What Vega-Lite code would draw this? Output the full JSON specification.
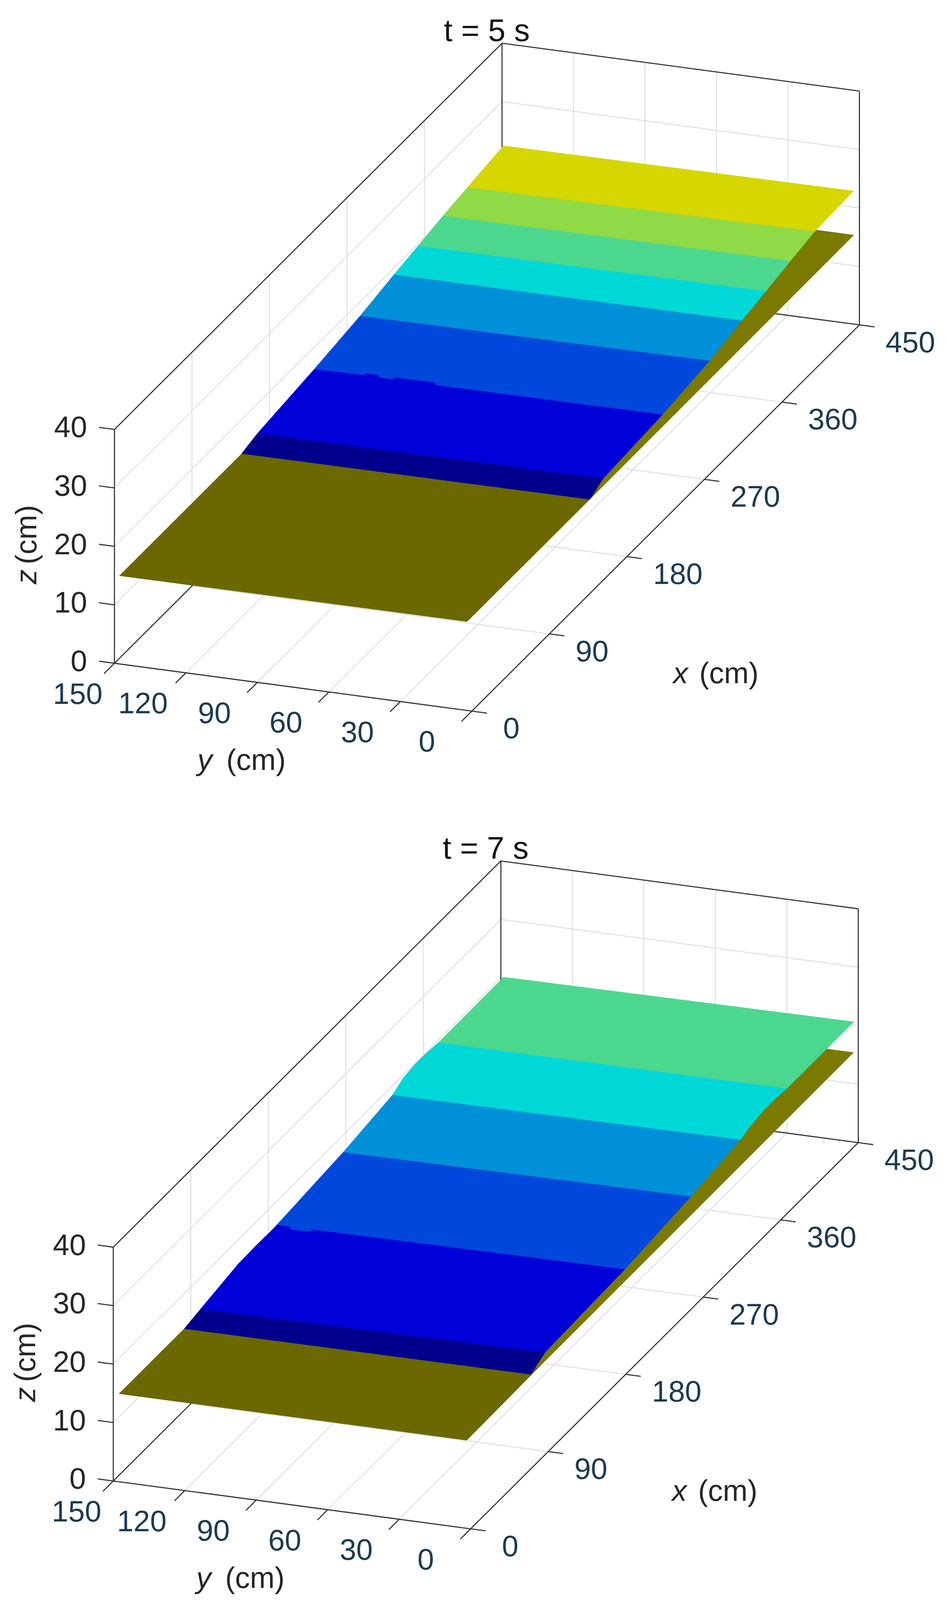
{
  "$schema": "https://vega.github.io/schema/vega-lite/v6.json",
  "width": 2427,
  "height": 4100,
  "padding": 0,
  "autosize": "none",
  "background": "white",
  "view": {"stroke": null},
  "config": {"text": {"font": "Liberation Sans", "fontSize": 76}},
  "datasets": {
    "grid": [
      {"x0":0,"y0":30,"z0":0,"x1":450,"y1":30,"z1":0},
      {"x0":0,"y0":60,"z0":0,"x1":450,"y1":60,"z1":0},
      {"x0":0,"y0":90,"z0":0,"x1":450,"y1":90,"z1":0},
      {"x0":0,"y0":120,"z0":0,"x1":450,"y1":120,"z1":0},
      {"x0":90,"y0":0,"z0":0,"x1":90,"y1":150,"z1":0},
      {"x0":180,"y0":0,"z0":0,"x1":180,"y1":150,"z1":0},
      {"x0":270,"y0":0,"z0":0,"x1":270,"y1":150,"z1":0},
      {"x0":360,"y0":0,"z0":0,"x1":360,"y1":150,"z1":0},
      {"x0":90,"y0":150,"z0":0,"x1":90,"y1":150,"z1":40},
      {"x0":180,"y0":150,"z0":0,"x1":180,"y1":150,"z1":40},
      {"x0":270,"y0":150,"z0":0,"x1":270,"y1":150,"z1":40},
      {"x0":360,"y0":150,"z0":0,"x1":360,"y1":150,"z1":40},
      {"x0":0,"y0":150,"z0":10,"x1":450,"y1":150,"z1":10},
      {"x0":0,"y0":150,"z0":20,"x1":450,"y1":150,"z1":20},
      {"x0":0,"y0":150,"z0":30,"x1":450,"y1":150,"z1":30},
      {"x0":450,"y0":30,"z0":0,"x1":450,"y1":30,"z1":40},
      {"x0":450,"y0":60,"z0":0,"x1":450,"y1":60,"z1":40},
      {"x0":450,"y0":90,"z0":0,"x1":450,"y1":90,"z1":40},
      {"x0":450,"y0":120,"z0":0,"x1":450,"y1":120,"z1":40},
      {"x0":450,"y0":0,"z0":10,"x1":450,"y1":150,"z1":10},
      {"x0":450,"y0":0,"z0":20,"x1":450,"y1":150,"z1":20},
      {"x0":450,"y0":0,"z0":30,"x1":450,"y1":150,"z1":30}
    ],
    "box": [
      {"x0":0,"y0":150,"z0":0,"x1":0,"y1":150,"z1":40},
      {"x0":0,"y0":150,"z0":40,"x1":450,"y1":150,"z1":40},
      {"x0":450,"y0":150,"z0":40,"x1":450,"y1":0,"z1":40},
      {"x0":450,"y0":0,"z0":40,"x1":450,"y1":0,"z1":0},
      {"x0":450,"y0":150,"z0":40,"x1":450,"y1":150,"z1":0},
      {"x0":0,"y0":0,"z0":0,"x1":0,"y1":150,"z1":0},
      {"x0":0,"y0":0,"z0":0,"x1":450,"y1":0,"z1":0},
      {"x0":0,"y0":150,"z0":0,"x1":450,"y1":150,"z1":0},
      {"x0":450,"y0":0,"z0":0,"x1":450,"y1":150,"z1":0},
      {"x0":0,"y0":150,"z0":0,"x1":0,"y1":156.5,"z1":0},
      {"x0":0,"y0":150,"z0":10,"x1":0,"y1":156.5,"z1":10},
      {"x0":0,"y0":150,"z0":20,"x1":0,"y1":156.5,"z1":20},
      {"x0":0,"y0":150,"z0":30,"x1":0,"y1":156.5,"z1":30},
      {"x0":0,"y0":150,"z0":40,"x1":0,"y1":156.5,"z1":40},
      {"x0":0,"y0":0,"z0":0,"x1":-12,"y1":0,"z1":0},
      {"x0":0,"y0":30,"z0":0,"x1":-12,"y1":30,"z1":0},
      {"x0":0,"y0":60,"z0":0,"x1":-12,"y1":60,"z1":0},
      {"x0":0,"y0":90,"z0":0,"x1":-12,"y1":90,"z1":0},
      {"x0":0,"y0":120,"z0":0,"x1":-12,"y1":120,"z1":0},
      {"x0":0,"y0":150,"z0":0,"x1":-12,"y1":150,"z1":0},
      {"x0":0,"y0":0,"z0":0,"x1":0,"y1":-6.3,"z1":0},
      {"x0":90,"y0":0,"z0":0,"x1":90,"y1":-6.3,"z1":0},
      {"x0":180,"y0":0,"z0":0,"x1":180,"y1":-6.3,"z1":0},
      {"x0":270,"y0":0,"z0":0,"x1":270,"y1":-6.3,"z1":0},
      {"x0":360,"y0":0,"z0":0,"x1":360,"y1":-6.3,"z1":0},
      {"x0":450,"y0":0,"z0":0,"x1":450,"y1":-6.3,"z1":0}
    ],
    "surface": [
      {"t":5,"band":"bed","i":1,"x":0,"y":148,"z":15.1},
      {"t":5,"band":"bed","i":2,"x":0,"y":2,"z":15.2},
      {"t":5,"band":"bed","i":3,"x":150,"y":2,"z":15.2},
      {"t":5,"band":"bed","i":4,"x":150,"y":148,"z":15.1},
      {"t":5,"band":"bedfar","i":1,"x":148,"y":148,"z":15.2},
      {"t":5,"band":"bedfar","i":2,"x":148,"y":2,"z":15.2},
      {"t":5,"band":"bedfar","i":3,"x":449,"y":2,"z":15.4},
      {"t":5,"band":"bedfar","i":4,"x":449,"y":148,"z":15.4},
      {"t":5,"band":"navy","i":1,"x":142,"y":148,"z":15.15},
      {"t":5,"band":"navy","i":2,"x":142.5,"y":2,"z":15.2},
      {"t":5,"band":"navy","i":3,"x":158,"y":2,"z":16.5},
      {"t":5,"band":"navy","i":4,"x":160.5,"y":148,"z":15.9},
      {"t":5,"band":"royal","i":1,"x":226,"y":148,"z":17.2},
      {"t":5,"band":"royal","i":2,"x":226.7,"y":2,"z":17.3},
      {"t":5,"band":"royal","i":3,"x":281.7,"y":2,"z":18.5},
      {"t":5,"band":"royal","i":4,"x":279.7,"y":148,"z":18.5},
      {"t":5,"band":"blue","i":1,"x":160.5,"y":148,"z":15.9},
      {"t":5,"band":"blue","i":2,"x":158,"y":2,"z":16.5},
      {"t":5,"band":"blue","i":3,"x":226.7,"y":2,"z":17.3},
      {"t":5,"band":"blue","i":4,"x":225.8,"y":96.5,"z":17.3},
      {"t":5,"band":"blue","i":5,"x":228.4,"y":98.3,"z":17.3},
      {"t":5,"band":"blue","i":6,"x":228,"y":114.9,"z":17.3},
      {"t":5,"band":"blue","i":7,"x":225.7,"y":114.9,"z":17.3},
      {"t":5,"band":"blue","i":8,"x":225.8,"y":120.3,"z":17.3},
      {"t":5,"band":"blue","i":9,"x":228.4,"y":122.1,"z":17.3},
      {"t":5,"band":"blue","i":10,"x":228.5,"y":127.2,"z":17.3},
      {"t":5,"band":"blue","i":11,"x":226.3,"y":126.8,"z":17.3},
      {"t":5,"band":"blue","i":12,"x":226,"y":148,"z":17.2},
      {"t":5,"band":"med","i":1,"x":279.7,"y":148,"z":18.5},
      {"t":5,"band":"med","i":2,"x":281.7,"y":2,"z":18.5},
      {"t":5,"band":"med","i":3,"x":319,"y":2,"z":19.9},
      {"t":5,"band":"med","i":4,"x":319,"y":148,"z":19.8},
      {"t":5,"band":"cyan","i":1,"x":319,"y":148,"z":19.8},
      {"t":5,"band":"cyan","i":2,"x":319,"y":2,"z":19.9},
      {"t":5,"band":"cyan","i":3,"x":347,"y":2,"z":20.8},
      {"t":5,"band":"cyan","i":4,"x":347,"y":148,"z":20.6},
      {"t":5,"band":"green","i":1,"x":347,"y":148,"z":20.6},
      {"t":5,"band":"green","i":2,"x":347,"y":2,"z":20.8},
      {"t":5,"band":"green","i":3,"x":375.6,"y":2,"z":21.8},
      {"t":5,"band":"green","i":4,"x":375.9,"y":148,"z":21.5},
      {"t":5,"band":"lime","i":1,"x":375.9,"y":148,"z":21.5},
      {"t":5,"band":"lime","i":2,"x":375.6,"y":2,"z":21.8},
      {"t":5,"band":"lime","i":3,"x":403.8,"y":2,"z":22.7},
      {"t":5,"band":"lime","i":4,"x":404.4,"y":148,"z":22.2},
      {"t":5,"band":"yellow","i":1,"x":404.4,"y":148,"z":22.2},
      {"t":5,"band":"yellow","i":2,"x":403.8,"y":2,"z":22.7},
      {"t":5,"band":"yellow","i":3,"x":448.6,"y":2,"z":23},
      {"t":5,"band":"yellow","i":4,"x":445.7,"y":148,"z":23.2},
      {"t":7,"band":"bed","i":1,"x":1,"y":148,"z":14.9},
      {"t":7,"band":"bed","i":2,"x":1,"y":2,"z":14.9},
      {"t":7,"band":"bed","i":3,"x":86,"y":2,"z":15.1},
      {"t":7,"band":"bed","i":4,"x":86,"y":148,"z":14.9},
      {"t":7,"band":"bedfar","i":1,"x":84,"y":148,"z":15},
      {"t":7,"band":"bedfar","i":2,"x":84,"y":2,"z":15.1},
      {"t":7,"band":"bedfar","i":3,"x":450,"y":2,"z":15.3},
      {"t":7,"band":"bedfar","i":4,"x":450,"y":148,"z":15.3},
      {"t":7,"band":"navy","i":1,"x":76.8,"y":148,"z":14.9},
      {"t":7,"band":"navy","i":2,"x":75.4,"y":2,"z":15.25},
      {"t":7,"band":"navy","i":3,"x":92,"y":2,"z":16.6},
      {"t":7,"band":"navy","i":4,"x":95.8,"y":148,"z":15.5},
      {"t":7,"band":"royal","i":1,"x":178,"y":148,"z":16.8},
      {"t":7,"band":"royal","i":2,"x":178,"y":2,"z":17.1},
      {"t":7,"band":"royal","i":3,"x":261.4,"y":2,"z":18.4},
      {"t":7,"band":"royal","i":4,"x":261.4,"y":148,"z":18},
      {"t":7,"band":"blue","i":1,"x":95.8,"y":148,"z":15.5},
      {"t":7,"band":"blue","i":2,"x":92,"y":2,"z":16.6},
      {"t":7,"band":"blue","i":3,"x":184.2,"y":2,"z":17.2},
      {"t":7,"band":"blue","i":4,"x":184,"y":132.5,"z":16.9},
      {"t":7,"band":"blue","i":5,"x":181.5,"y":133,"z":16.9},
      {"t":7,"band":"blue","i":6,"x":181,"y":141,"z":16.9},
      {"t":7,"band":"blue","i":7,"x":184,"y":142.5,"z":16.9},
      {"t":7,"band":"blue","i":8,"x":184.5,"y":148,"z":16.8},
      {"t":7,"band":"blue","i":9,"x":160,"y":148,"z":16.85},
      {"t":7,"band":"blue","i":10,"x":138.2,"y":148,"z":16.75},
      {"t":7,"band":"med","i":1,"x":261.4,"y":148,"z":18},
      {"t":7,"band":"med","i":2,"x":261.4,"y":2,"z":18.4},
      {"t":7,"band":"med","i":3,"x":318.9,"y":2,"z":19.66},
      {"t":7,"band":"med","i":4,"x":318.6,"y":148,"z":19.4},
      {"t":7,"band":"cyan","i":1,"x":318.6,"y":148,"z":19.4},
      {"t":7,"band":"cyan","i":2,"x":318.9,"y":2,"z":19.66},
      {"t":7,"band":"cyan","i":3,"x":330,"y":2,"z":20.3},
      {"t":7,"band":"cyan","i":4,"x":346,"y":2,"z":20.74},
      {"t":7,"band":"cyan","i":5,"x":360,"y":2,"z":20.74},
      {"t":7,"band":"cyan","i":6,"x":372.9,"y":2,"z":20.5},
      {"t":7,"band":"cyan","i":7,"x":372.2,"y":148,"z":20.5},
      {"t":7,"band":"cyan","i":8,"x":358,"y":148,"z":20.75},
      {"t":7,"band":"cyan","i":9,"x":345,"y":148,"z":20.8},
      {"t":7,"band":"cyan","i":10,"x":330,"y":148,"z":20.4},
      {"t":7,"band":"green","i":1,"x":372.2,"y":148,"z":20.5},
      {"t":7,"band":"green","i":2,"x":372.9,"y":2,"z":20.5},
      {"t":7,"band":"green","i":3,"x":450.4,"y":2,"z":20.5},
      {"t":7,"band":"green","i":4,"x":447.5,"y":148,"z":20.6}
    ],
    "ticks": [
      {"axis":"z","label":"0","x":0,"y":150,"z":0},
      {"axis":"z","label":"10","x":0,"y":150,"z":10},
      {"axis":"z","label":"20","x":0,"y":150,"z":20},
      {"axis":"z","label":"30","x":0,"y":150,"z":30},
      {"axis":"z","label":"40","x":0,"y":150,"z":40},
      {"axis":"y","label":"150","x":0,"y":150,"z":0},
      {"axis":"y","label":"120","x":0,"y":120,"z":0},
      {"axis":"y","label":"90","x":0,"y":90,"z":0},
      {"axis":"y","label":"60","x":0,"y":60,"z":0},
      {"axis":"y","label":"30","x":0,"y":30,"z":0},
      {"axis":"y","label":"0","x":0,"y":0,"z":0},
      {"axis":"x","label":"0","x":0,"y":0,"z":0},
      {"axis":"x","label":"90","x":90,"y":0,"z":0},
      {"axis":"x","label":"180","x":180,"y":0,"z":0},
      {"axis":"x","label":"270","x":270,"y":0,"z":0},
      {"axis":"x","label":"360","x":360,"y":0,"z":0},
      {"axis":"x","label":"450","x":450,"y":0,"z":0}
    ],
    "titles": [
      {"t":5,"label":"t = 5 s","x":450,"y":150,"z":40},
      {"t":7,"label":"t = 7 s","x":450,"y":150,"z":40}
    ],
    "axisTitles": [
      {"axis":"x","name":"x","x":225,"y":0,"z":0},
      {"axis":"y","name":"y","x":0,"y":75,"z":0},
      {"axis":"z","name":"z","x":0,"y":150,"z":20}
    ]
  },
  "encoding": {
    "x": {"field": "px", "type": "quantitative", "scale": {"domain": [0, 2427], "nice": false, "zero": false}, "axis": null},
    "y": {"field": "py", "type": "quantitative", "scale": {"domain": [4822, 0], "nice": false, "zero": false}, "axis": null}
  },
  "layer": [
    {
      "data": {"name": "grid"},
      "transform": [
        {"calculate": "[5, 7]", "as": "t"},
        {"flatten": ["t"]},
        {"calculate": "1208 + 2.205*datum.x0 - 6.1*datum.y0 - (datum.t == 7 ? 3 : 0)", "as": "px"},
        {"calculate": "2141 - 2.584*datum.x0 - 0.96*datum.y0 - 17.6*datum.z0 + (datum.t == 7 ? 2462 : 0)", "as": "py"},
        {"calculate": "1208 + 2.205*datum.x1 - 6.1*datum.y1 - (datum.t == 7 ? 3 : 0)", "as": "px2"},
        {"calculate": "2141 - 2.584*datum.x1 - 0.96*datum.y1 - 17.6*datum.z1 + (datum.t == 7 ? 2462 : 0)", "as": "py2"}
      ],
      "mark": {"type": "rule", "color": "#dfdfdf", "strokeWidth": 2.5},
      "encoding": {"x2": {"field": "px2"}, "y2": {"field": "py2"}}
    },
    {
      "data": {"name": "box"},
      "transform": [
        {"calculate": "[5, 7]", "as": "t"},
        {"flatten": ["t"]},
        {"calculate": "1208 + 2.205*datum.x0 - 6.1*datum.y0 - (datum.t == 7 ? 3 : 0)", "as": "px"},
        {"calculate": "2141 - 2.584*datum.x0 - 0.96*datum.y0 - 17.6*datum.z0 + (datum.t == 7 ? 2462 : 0)", "as": "py"},
        {"calculate": "1208 + 2.205*datum.x1 - 6.1*datum.y1 - (datum.t == 7 ? 3 : 0)", "as": "px2"},
        {"calculate": "2141 - 2.584*datum.x1 - 0.96*datum.y1 - 17.6*datum.z1 + (datum.t == 7 ? 2462 : 0)", "as": "py2"}
      ],
      "mark": {"type": "rule", "color": "#333333", "strokeWidth": 2.8},
      "encoding": {"x2": {"field": "px2"}, "y2": {"field": "py2"}}
    },
    {
      "data": {"name": "surface"},
      "transform": [
        {"calculate": "1208 + 2.205*datum.x - 6.1*datum.y - (datum.t == 7 ? 3 : 0)", "as": "px"},
        {"calculate": "2141 - 2.584*datum.x - 0.96*datum.y - 17.6*datum.z + (datum.t == 7 ? 2462 : 0)", "as": "py"}
      ],
      "mark": {"type": "line", "strokeWidth": 1, "fill": "#000000"},
      "encoding": {
        "detail": {"field": "t"},
        "order": {"field": "i", "type": "quantitative"},
        "stroke": {
          "field": "band",
          "type": "nominal",
          "legend": null,
          "scale": {
            "domain": ["bed", "bedfar", "navy", "blue", "royal", "med", "cyan", "green", "lime", "yellow"],
            "range": ["#6b6800", "#7a7a00", "#00008c", "#0000d8", "#0047dc", "#0090d9", "#00d8d8", "#4cd78f", "#90da48", "#d6d600"]
          }
        },
        "fill": {"field": "band", "type": "nominal", "legend": null, "scale": {
            "domain": ["bed", "bedfar", "navy", "blue", "royal", "med", "cyan", "green", "lime", "yellow"],
            "range": ["#6b6800", "#7a7a00", "#00008c", "#0000d8", "#0047dc", "#0090d9", "#00d8d8", "#4cd78f", "#90da48", "#d6d600"]
          }}
      }
    },
    {
      "data": {"name": "ticks"},
      "transform": [
        {"filter": "datum.axis == 'z'"},
        {"calculate": "[5, 7]", "as": "t"},
        {"flatten": ["t"]},
        {"calculate": "1208 + 2.205*datum.x - 6.1*datum.y - (datum.t == 7 ? 3 : 0)", "as": "px"},
        {"calculate": "2141 - 2.584*datum.x - 0.96*datum.y - 17.6*datum.z + (datum.t == 7 ? 2462 : 0)", "as": "py"}
      ],
      "mark": {"type": "text", "align": "right", "baseline": "middle", "dx": -70, "dy": -3, "color": "#262626"},
      "encoding": {"text": {"field": "label"}}
    },
    {
      "data": {"name": "ticks"},
      "transform": [
        {"filter": "datum.axis == 'y'"},
        {"calculate": "[5, 7]", "as": "t"},
        {"flatten": ["t"]},
        {"calculate": "1208 + 2.205*datum.x - 6.1*datum.y - (datum.t == 7 ? 3 : 0) + (datum.label == '150' ? 16 : datum.label == '0' ? -5 : 0)", "as": "px"},
        {"calculate": "2141 - 2.584*datum.x - 0.96*datum.y - 17.6*datum.z + (datum.t == 7 ? 2462 : 0)", "as": "py"}
      ],
      "mark": {"type": "text", "align": "center", "baseline": "middle", "dx": -110, "dy": 81, "color": "#1c3a52"},
      "encoding": {"text": {"field": "label"}}
    },
    {
      "data": {"name": "ticks"},
      "transform": [
        {"filter": "datum.axis == 'x'"},
        {"calculate": "[5, 7]", "as": "t"},
        {"flatten": ["t"]},
        {"calculate": "1208 + 2.205*datum.x - 6.1*datum.y - (datum.t == 7 ? 3 : 0) + (datum.label == '0' ? 13 : 0)", "as": "px"},
        {"calculate": "2141 - 2.584*datum.x - 0.96*datum.y - 17.6*datum.z + (datum.t == 7 ? 2462 : 0)", "as": "py"}
      ],
      "mark": {"type": "text", "align": "left", "baseline": "middle", "dx": 67, "dy": 47, "color": "#1c3a52"},
      "encoding": {"text": {"field": "label"}}
    },
    {
      "data": {"name": "titles"},
      "transform": [
        {"calculate": "1208 + 2.205*datum.x - 6.1*datum.y - (datum.t == 7 ? 3 : 0)", "as": "px"},
        {"calculate": "2141 - 2.584*datum.x - 0.96*datum.y - 17.6*datum.z + (datum.t == 7 ? 2462 : 0)", "as": "py"}
      ],
      "mark": {"type": "text", "align": "center", "baseline": "middle", "dx": -39, "dy": -30, "color": "#111111", "fontSize": 80},
      "encoding": {"text": {"field": "label"}}
    },
    {
      "data": {"name": "axisTitles"},
      "transform": [
        {"filter": "datum.axis == 'x'"},
        {"calculate": "[5, 7]", "as": "t"},
        {"flatten": ["t"]},
        {"calculate": "1208 + 2.205*datum.x - 6.1*datum.y - (datum.t == 7 ? 3 : 0)", "as": "px"},
        {"calculate": "2141 - 2.584*datum.x - 0.96*datum.y - 17.6*datum.z + (datum.t == 7 ? 2462 : 0)", "as": "py"}
      ],
      "layer": [
        {
          "mark": {"type": "text", "align": "center", "baseline": "middle", "fontStyle": "italic", "dx": 38, "dy": 400, "color": "#262626"},
          "encoding": {"text": {"field": "name"}}
        },
        {
          "mark": {"type": "text", "align": "center", "baseline": "middle", "dx": 162, "dy": 400, "color": "#262626"},
          "encoding": {"text": {"value": "(cm)"}}
        }
      ]
    },
    {
      "data": {"name": "axisTitles"},
      "transform": [
        {"filter": "datum.axis == 'y'"},
        {"calculate": "[5, 7]", "as": "t"},
        {"flatten": ["t"]},
        {"calculate": "1208 + 2.205*datum.x - 6.1*datum.y - (datum.t == 7 ? 3 : 0)", "as": "px"},
        {"calculate": "2141 - 2.584*datum.x - 0.96*datum.y - 17.6*datum.z + (datum.t == 7 ? 2462 : 0)", "as": "py"}
      ],
      "layer": [
        {
          "mark": {"type": "text", "align": "center", "baseline": "middle", "fontStyle": "italic", "dx": -226, "dy": 189, "color": "#262626"},
          "encoding": {"text": {"field": "name"}}
        },
        {
          "mark": {"type": "text", "align": "center", "baseline": "middle", "dx": -95, "dy": 189, "color": "#262626"},
          "encoding": {"text": {"value": "(cm)"}}
        }
      ]
    },
    {
      "data": {"name": "axisTitles"},
      "transform": [
        {"filter": "datum.axis == 'z'"},
        {"calculate": "[5, 7]", "as": "t"},
        {"flatten": ["t"]},
        {"calculate": "1208 + 2.205*datum.x - 6.1*datum.y - (datum.t == 7 ? 3 : 0)", "as": "px"},
        {"calculate": "2141 - 2.584*datum.x - 0.96*datum.y - 17.6*datum.z + (datum.t == 7 ? 2462 : 0)", "as": "py"}
      ],
      "layer": [
        {
          "mark": {"type": "text", "align": "center", "baseline": "middle", "angle": 270, "fontStyle": "italic", "dx": -78, "dy": -223, "color": "#262626"},
          "encoding": {"text": {"field": "name"}}
        },
        {
          "mark": {"type": "text", "align": "center", "baseline": "middle", "angle": 270, "dx": 30, "dy": -223, "color": "#262626"},
          "encoding": {"text": {"value": "(cm)"}}
        }
      ]
    }
  ]
}
